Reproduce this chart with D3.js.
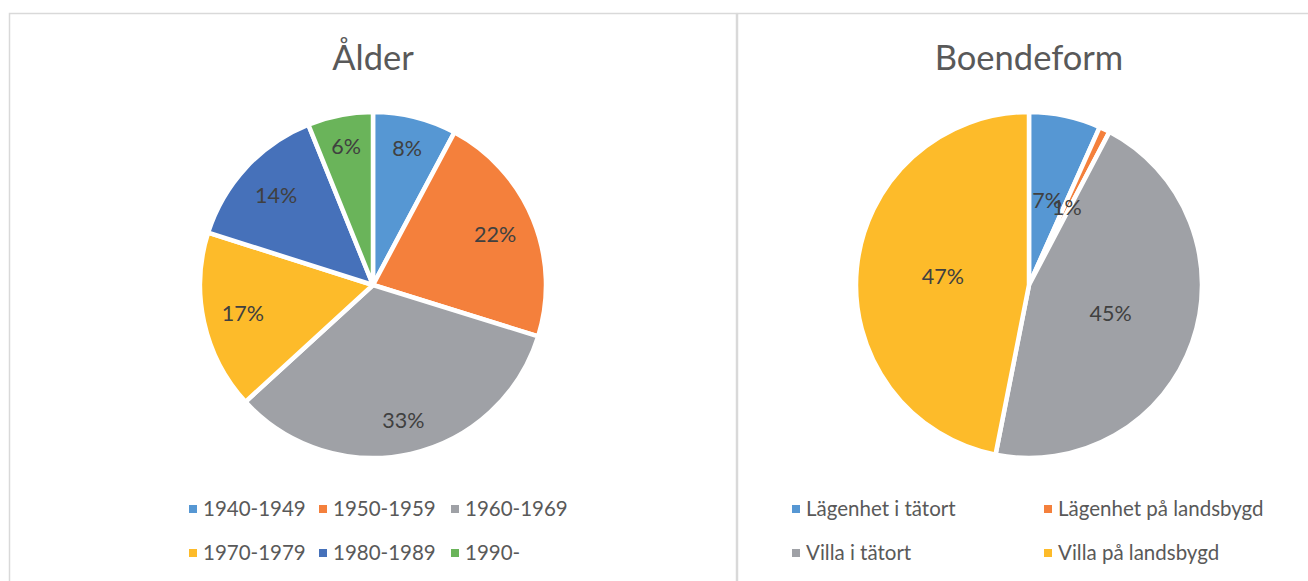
<!DOCTYPE html>
<html>
<head>
<meta charset="utf-8">
<script src="https://cdn.jsdelivr.net/npm/d3@7"></script>
<style>
  body { margin: 0; background: #fff; }
  svg { display: block; font-family: Lato, "Open Sans", sans-serif; }
</style>
</head>
<body>
<svg width="1308" height="581"></svg>
<script>
// chart 1: Ålder
const ageTitle = "Ålder";
const ageCategories = ["1940-1949", "1950-1959", "1960-1969", "1970-1979", "1980-1989", "1990-"];
const ageValues = [7.8, 22.0, 33.4, 16.7, 14.0, 6.1];
const ageColors = ["#5697d3", "#f4803c", "#9fa1a6", "#fdbb2a", "#4671ba", "#6ab45a"];

// chart 2: Boendeform
const homeTitle = "Boendeform";
const homeCategories = ["Lägenhet i tätort", "Lägenhet på landsbygd", "Villa i tätort", "Villa på landsbygd"];
const homeValues = [6.7, 1.0, 45.4, 46.9];
const homeColors = ["#5697d3", "#f4803c", "#9fa1a6", "#fdbb2a"];

const svg = d3.select("svg");

// frames
svg.append("rect")
    .attr("x", 9.5).attr("y", 13.5)
    .attr("width", 727).attr("height", 600)
    .attr("fill", "none").attr("stroke", "#d9d9d9").attr("stroke-width", 1.5);
svg.append("rect")
    .attr("x", 737.5).attr("y", 13.5)
    .attr("width", 600).attr("height", 600)
    .attr("fill", "none").attr("stroke", "#d9d9d9").attr("stroke-width", 1.5);

function drawPie(opts) {
    const g = svg.append("g");
    const total = d3.sum(opts.values);
    const data = opts.values.map((v, i) => ({name: opts.categories[i], value: v, color: opts.colors[i]}));
    const arcs = d3.pie().sort(null).value(d => d.value)(data);
    const arc = d3.arc().innerRadius(0).outerRadius(opts.r);

    g.append("text")
        .attr("x", opts.cx).attr("y", 70)
        .attr("text-anchor", "middle")
        .attr("fill", "#595959")
        .attr("font-size", 34.5)
        .text(opts.title);

    const pg = g.append("g").attr("transform", `translate(${opts.cx},${opts.cy})`);
    pg.selectAll("path")
        .data(arcs)
        .join("path")
        .attr("d", arc)
        .attr("fill", d => d.data.color)
        .attr("stroke", "#fff")
        .attr("stroke-width", 4.5)
        .attr("stroke-linejoin", "round");

    const labels = pg.selectAll("text.lbl")
        .data(arcs)
        .join("text")
        .attr("class", "lbl")
        .attr("text-anchor", "middle")
        .attr("dy", "0.35em")
        .attr("fill", "#404040")
        .attr("font-size", 21.5)
        .text(d => Math.round(d.data.value / total * 100) + "%");

    labels.each(function(d) {
        const a = (d.startAngle + d.endAngle) / 2;
        const ux = Math.sin(a), uy = -Math.cos(a);
        let dist;
        if (opts.labelMode === "centroid") {
            dist = opts.r * 0.5;
        } else {
            const bb = this.getBBox();
            const ext = bb.width / 2 * Math.abs(ux) + bb.height / 2 * Math.abs(uy);
            dist = opts.r * 0.905 - ext;
        }
        d3.select(this).attr("x", ux * dist).attr("y", uy * dist);
    });

    // legend
    const lg = g.append("g");
    const items = lg.selectAll("g")
        .data(data)
        .join("g")
        .attr("transform", (d, i) => `translate(${opts.legendX[i % opts.legendX.length]},${opts.legendY[Math.floor(i / opts.legendX.length)]})`);
    items.append("rect")
        .attr("x", 0).attr("y", -4)
        .attr("width", 8).attr("height", 8)
        .attr("fill", d => d.color);
    items.append("text")
        .attr("x", 14).attr("dy", "0.35em")
        .attr("fill", "#595959")
        .attr("font-size", 20.5)
        .text(d => d.name);
}

drawPie({
    title: ageTitle, categories: ageCategories, values: ageValues, colors: ageColors,
    cx: 373, cy: 285, r: 173, labelMode: "inside",
    legendX: [189, 319, 451], legendY: [509, 553]
});

drawPie({
    title: homeTitle, categories: homeCategories, values: homeValues, colors: homeColors,
    cx: 1029, cy: 285, r: 173, labelMode: "centroid",
    legendX: [792, 1044], legendY: [509, 553]
});
</script>
</body>
</html>
